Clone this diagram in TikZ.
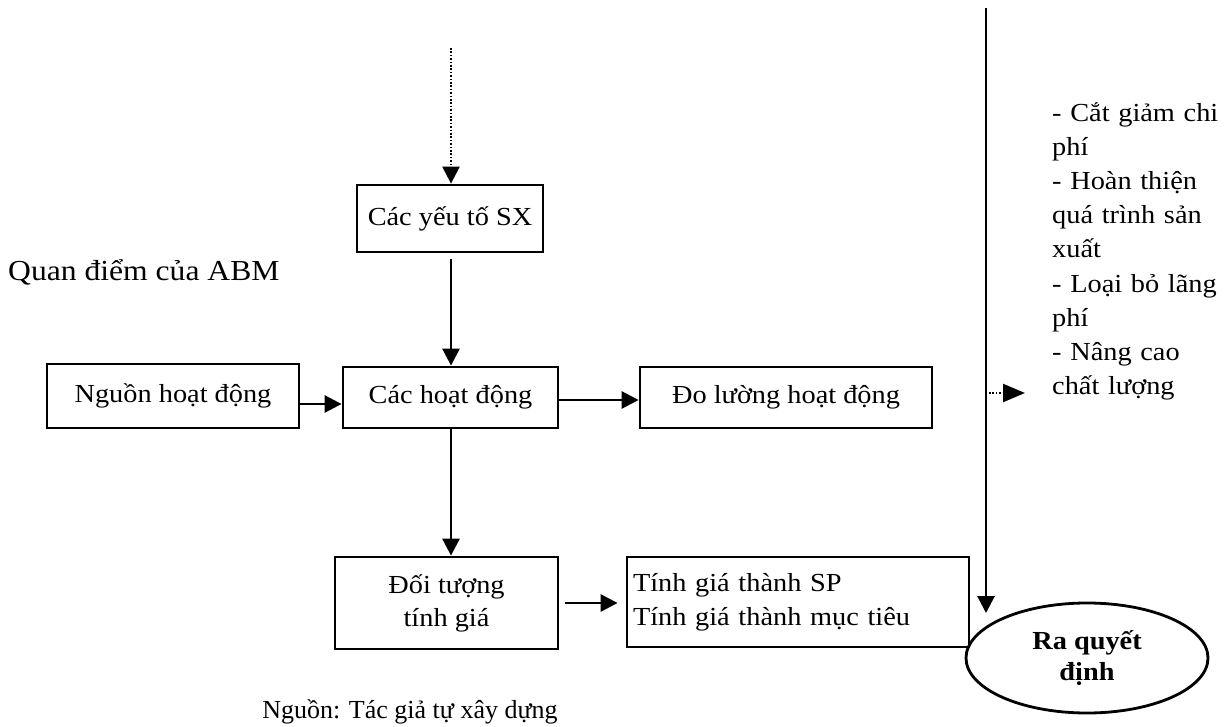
\documentclass[tikz,border=0pt]{standalone}
\usepackage{fontspec}
\setmainfont[FakeStretch=1.09]{Liberation Serif}
\newfontfamily\capfont{Liberation Serif}
\usetikzlibrary{arrows.meta,shapes.geometric}
\tikzset{
  box/.style={draw, line width=2.8pt, rectangle, inner sep=0pt, align=center, font=\fontsize{26}{33}\selectfont},
  conn/.style={line width=2.8pt, -{Triangle[length=17pt,width=17pt]}},
  dotconn/.style={line width=2.4pt, dash pattern=on 1.6pt off 1.8pt, -{Triangle[length=17pt,width=17pt]}},
}
\begin{document}
\begin{tikzpicture}[x=1pt,y=-1pt]
\useasboundingbox (0,0) rectangle (1226,727);
% title
\node[anchor=west, inner sep=0pt, font=\fontsize{29}{36}\selectfont] (title) at (8,272) {Quan điểm của ABM};
% boxes
\node[box, minimum width=186pt, minimum height=67pt] (sx) at (450,218.5) {Các yếu tố SX};
\node[box, minimum width=252pt, minimum height=64pt] (ng) at (173,396) {Nguồn hoạt động};
\node[box, minimum width=215pt, minimum height=61pt] (hd) at (450.5,397.5) {Các hoạt động};
\node[box, minimum width=292pt, minimum height=61pt] (dl) at (786,397.5) {Đo lường hoạt động};
\node[box, minimum width=223pt, minimum height=92pt] (dt) at (446.5,603) {Đối tượng\\tính giá};
\node[box, minimum width=342pt, minimum height=90pt, text width=330pt, align=left, font=\fontsize{26}{34}\selectfont] (tg) at (798,602) {Tính giá thành SP\\Tính giá thành mục tiêu};
\node[draw, line width=2.8pt, ellipse, minimum width=242pt, minimum height=110pt, inner sep=0pt, align=center, font=\fontsize{26}{31}\selectfont\bfseries] (rq) at (1087,658) {Ra quyết\\định};
% right text
\node[anchor=north west, inner sep=0pt, text width=166pt, align=left, font=\fontsize{26}{34.2}\selectfont] (list) at (1052,102) {%
\makebox[\linewidth][s]{- Cắt giảm chi}\\
phí\\
\makebox[\linewidth][s]{- Hoàn thiện}\\
\makebox[\linewidth][s]{quá trình sản}\\
xuất\\
\makebox[\linewidth][s]{- Loại bỏ lãng}\\
phí\\
\makebox[\linewidth][s]{- Nâng cao}\\
chất lượng};
% caption
\node[inner sep=0pt, font=\capfont\fontsize{26}{30}\selectfont] (cap) at (410,712) {Nguồn: Tác giả tự xây dựng};
% coordinates
\coordinate (dtop) at (451,48);
\coordinate (ltop) at (986,8);
\coordinate (ltip) at (986,613);
\coordinate (ds) at (989,393);
\coordinate (de) at (1025,393);
% connectors
\draw[dotconn] (dtop) -- (sx.north -| dtop);
\draw[conn] ([yshift=-6pt]sx.south -| dtop) -- (hd.north -| dtop);
\draw[conn] (ng.east |- 0,404) -- (hd.west |- 0,404);
\draw[conn] (hd.east |- 0,400) -- (dl.west |- 0,400);
\draw[conn] (hd.south -| dtop) -- (dt.north -| dtop);
\draw[conn] ([xshift=6pt]dt.east |- 0,603) -- ([xshift=-8pt]tg.west |- 0,603);
\draw[line width=2.8pt, -{Triangle[length=17pt,width=17pt]}] (ltop) -- (ltip);
\draw[dotconn, -{Triangle[length=22pt,width=18pt]}] (ds) -- (de);
\end{tikzpicture}
\end{document}
